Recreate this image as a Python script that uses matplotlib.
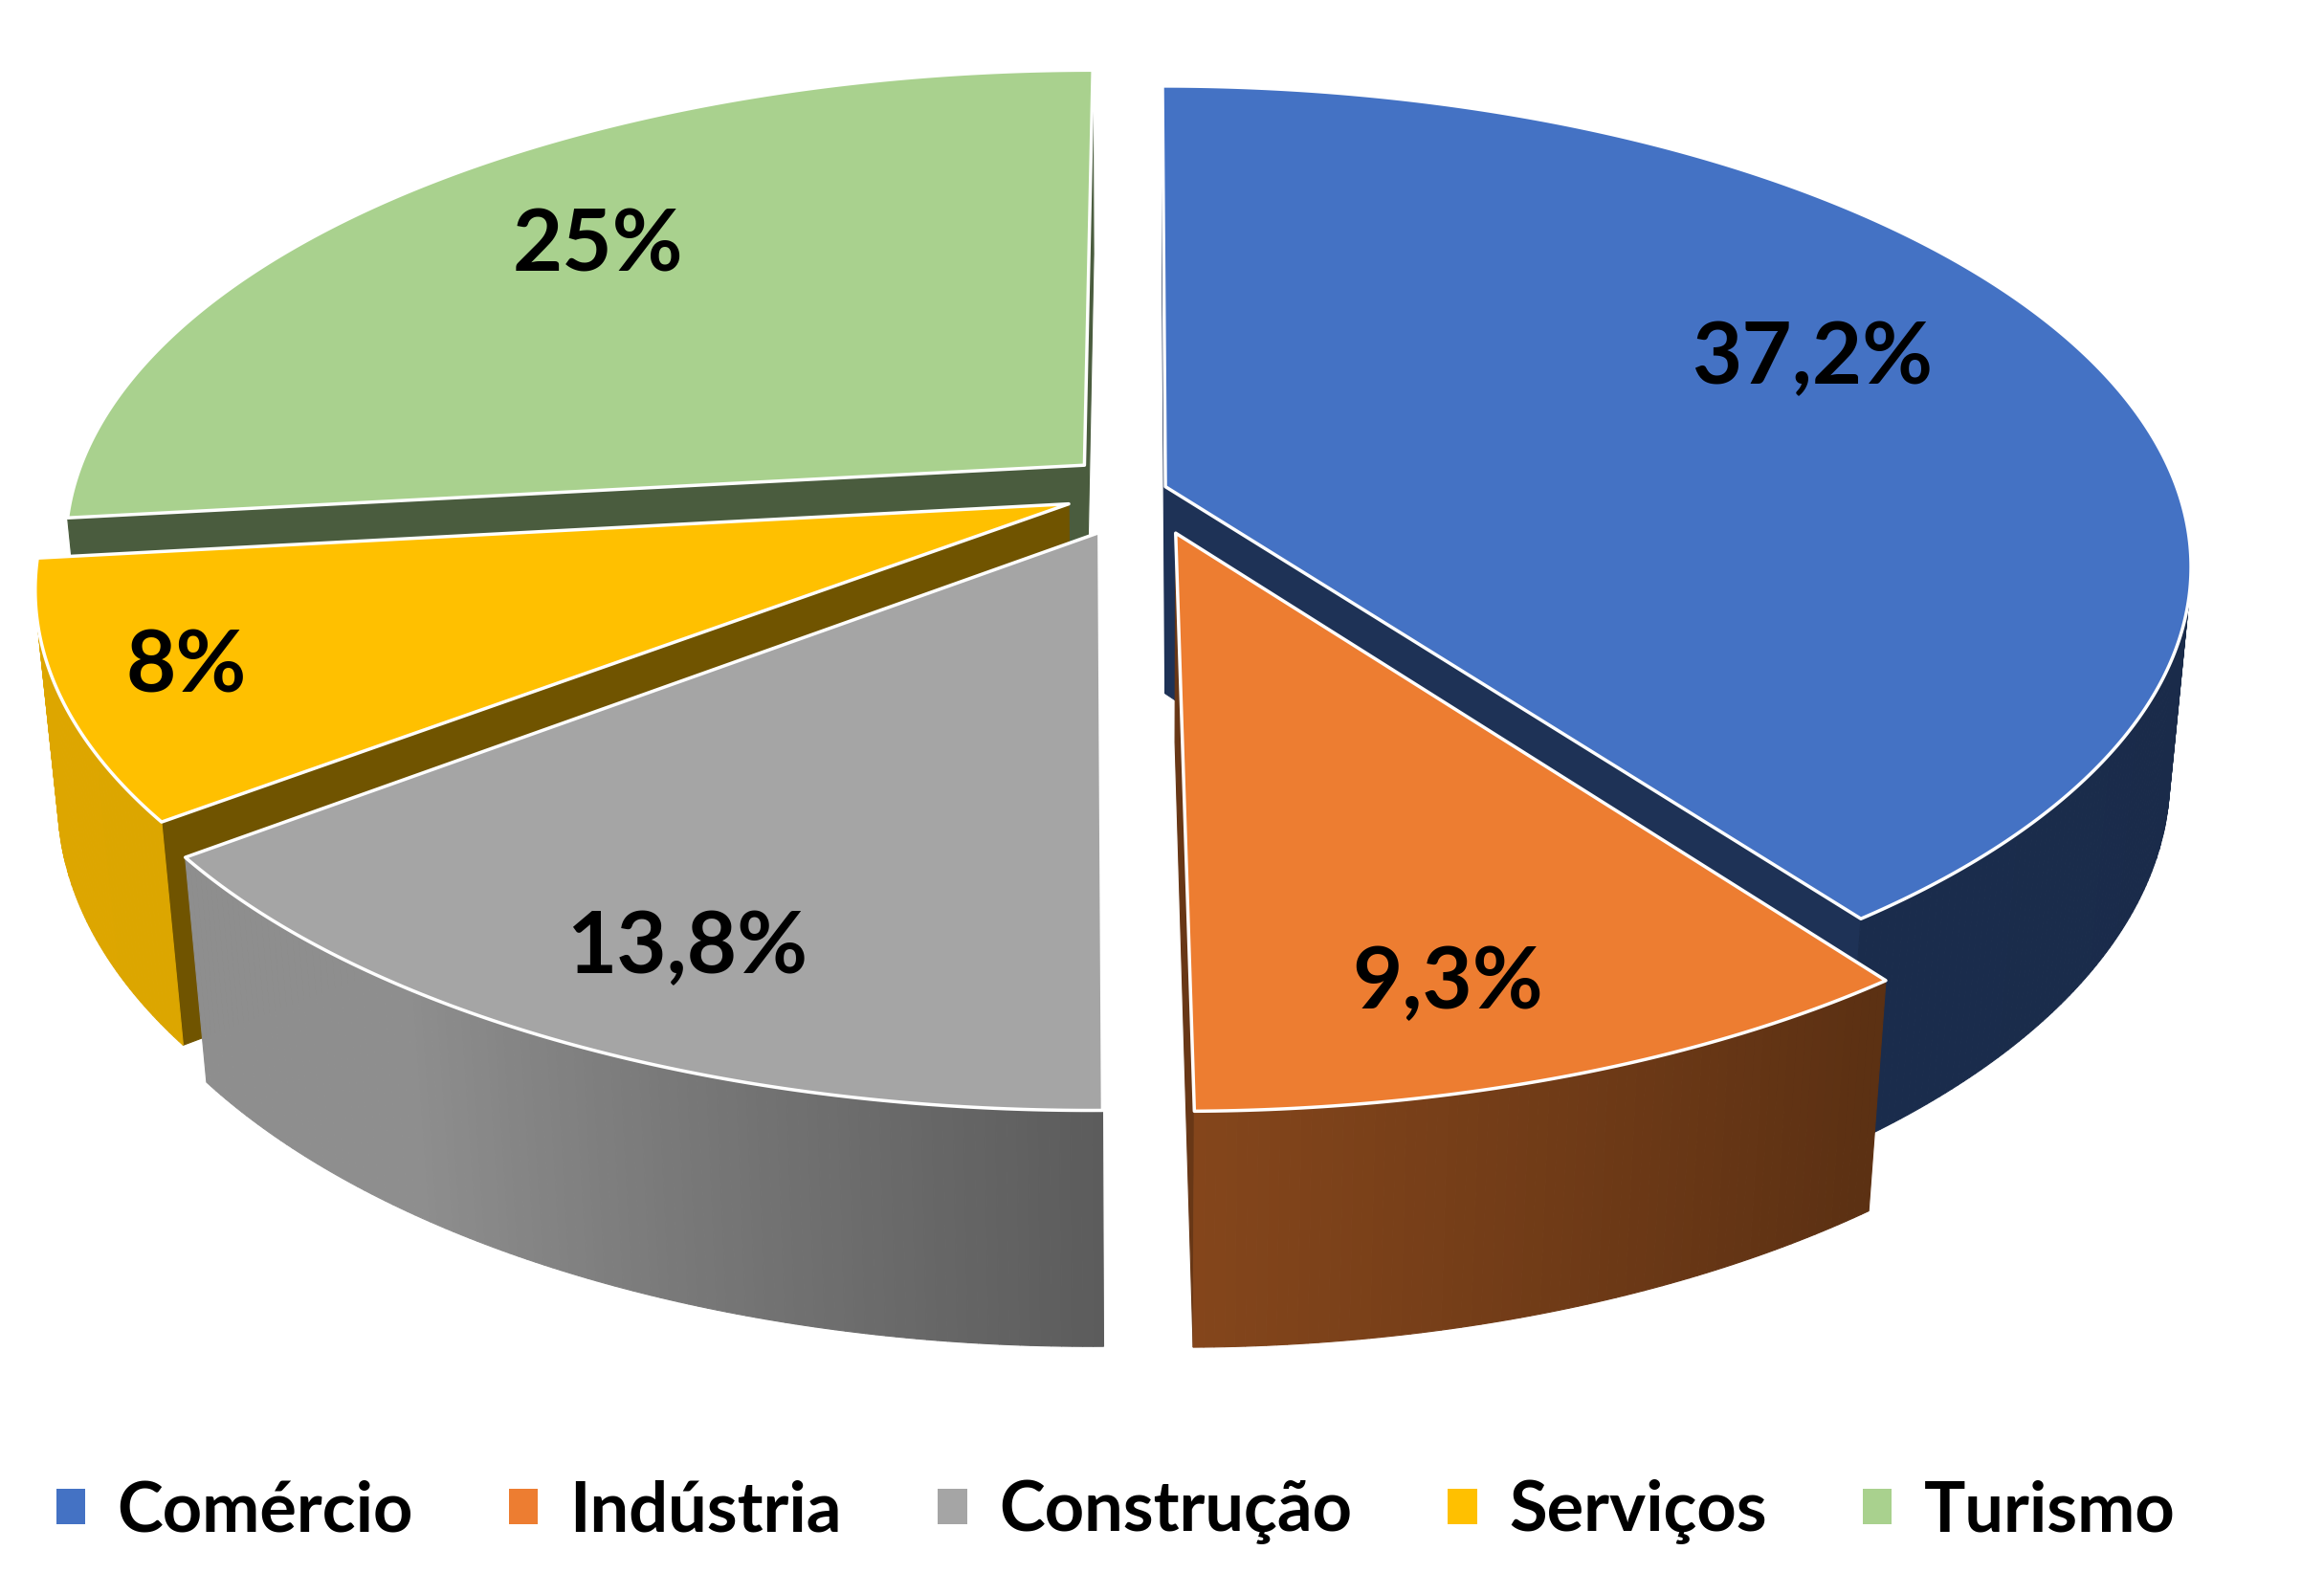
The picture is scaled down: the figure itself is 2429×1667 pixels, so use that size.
import numpy as np
import matplotlib
matplotlib.use('Agg')
import matplotlib.pyplot as plt
from matplotlib.patches import Polygon, Patch
from matplotlib.colors import to_rgb

plt.rcParams['font.family'] = ['Lato', 'DejaVu Sans']

# data
sectors = ['Comércio', 'Indústria', 'Construção', 'Serviços', 'Turismo']
values = [37.2, 9.3, 13.8, 8, 25]
value_labels = ['37,2%', '9,3%', '13,8%', '8%', '25%']
colors = ['#4472C4', '#ED7D31', '#A5A5A5', '#FFC000', '#A9D18E']
explode = [0.022, 0.096, 0.10, 0.08, 0.08]

# label placement on the top face (radius, angle shift from slice middle)
label_r = [0.73, 0.84, 0.83, 0.88, 0.74]
label_shift = [5, -3, 1.5, 0, -2.4]

# 3d look of the pie
TILT = np.radians(27.5)
DIST = 5.4
THICK = 0.235
CX, CY, SCALE = 1196, 512, 1058
CAM = np.array([0, -DIST * np.cos(TILT), DIST * np.sin(TILT)])


def project(X, Y, Z):
    X, Y, Z = np.asarray(X, float), np.asarray(Y, float), np.asarray(Z, float)
    depth = Y * np.cos(TILT) - Z * np.sin(TILT)
    k = DIST / (DIST + depth)
    sx = CX + SCALE * X * k
    sy = CY - SCALE * (Y * np.sin(TILT) + Z * np.cos(TILT)) * k
    return sx, sy, depth


def shade(c, f):
    return tuple(np.clip(np.array(to_rgb(c)) * f, 0, 1))


def wall_factor(t):
    t = (t + 180) % 360 - 180
    return np.interp(t, [-180, -125, -90, -55, 0, 180], [0.87, 0.86, 0.56, 0.39, 0.37, 0.37])


def facing(px, py, nx, ny):
    return (CAM[0] - px) * nx + (CAM[1] - py) * ny > 0


fig = plt.figure(figsize=(24.29, 16.67), dpi=100)
ax = fig.add_axes([0, 0, 1, 1])
ax.set_xlim(0, 2429)
ax.set_ylim(1667, 0)
ax.axis('off')

fracs = np.array(values) / np.sum(values)
starts = 90 - np.concatenate([[0], np.cumsum(fracs)[:-1]]) * 360
ends = starts - fracs * 360

walls = []
tops = []
labels = []
for i in range(len(values)):
    a0, a1 = starts[i], ends[i]
    mid = np.radians((a0 + a1) / 2)
    ox, oy = explode[i] * np.cos(mid), explode[i] * np.sin(mid)
    t = np.radians(np.linspace(a1, a0, int(abs(a0 - a1) * 2) + 2))
    arc_x = np.cos(t) + ox
    arc_y = np.sin(t) + oy

    # outer wall, in thin strips so the shading can follow the angle
    for j in range(len(t) - 1):
        tm = (t[j] + t[j + 1]) / 2
        px, py = np.cos(tm) + ox, np.sin(tm) + oy
        if not facing(px, py, np.cos(tm), np.sin(tm)):
            continue
        xs = [arc_x[j], arc_x[j + 1], arc_x[j + 1], arc_x[j]]
        ys = [arc_y[j], arc_y[j + 1], arc_y[j + 1], arc_y[j]]
        zs = [0, 0, -THICK, -THICK]
        sx, sy, _ = project(xs, ys, zs)
        _, _, d = project(px, py, -THICK / 2)
        walls.append((float(d), np.column_stack([sx, sy]),
                      shade(colors[i], wall_factor(np.degrees(tm)))))

    # radial walls
    for a, sgn in ((a0, 1), (a1, -1)):
        ar = np.radians(a)
        ex, ey = np.cos(ar) + ox, np.sin(ar) + oy
        nx, ny = np.cos(ar + sgn * np.pi / 2), np.sin(ar + sgn * np.pi / 2)
        mx, my = (ox + ex) / 2, (oy + ey) / 2
        if not facing(mx, my, nx, ny):
            continue
        sx, sy, _ = project([ox, ex, ex, ox], [oy, ey, ey, oy], [0, 0, -THICK, -THICK])
        _, _, d = project(mx, my, -THICK / 2)
        walls.append((float(d), np.column_stack([sx, sy]), shade(colors[i], 0.44)))

    # top face
    sx, sy, _ = project(np.r_[ox, arc_x], np.r_[oy, arc_y], np.zeros(len(t) + 1))
    _, _, d = project(ox, oy, 0)
    tops.append((float(d), np.column_stack([sx, sy]), colors[i]))

    la = mid + np.radians(label_shift[i])
    lx, ly, _ = project(label_r[i] * np.cos(la) + ox, label_r[i] * np.sin(la) + oy, 0)
    labels.append((float(lx), float(ly), value_labels[i]))

for d, pts, c in sorted(walls, key=lambda w: -w[0]):
    ax.add_patch(Polygon(pts, closed=True, facecolor=c, edgecolor=c, lw=0.8))

for d, pts, c in sorted(tops, key=lambda w: -w[0]):
    ax.add_patch(Polygon(pts, closed=True, facecolor=c, edgecolor='white', lw=2.5,
                         joinstyle='round'))

for lx, ly, txt in labels:
    ax.text(lx, ly, txt, ha='center', va='center', fontsize=65,
            fontweight='bold', color='black')

handles = [Patch(facecolor=c, edgecolor='none') for c in colors]
fig.legend(handles, sectors, loc='center', bbox_to_anchor=(0.48, 0.052), ncol=5,
           frameon=False, prop={'weight': 'bold', 'size': 52},
           handlelength=0.42, handleheight=0.42, handletextpad=0.46,
           columnspacing=1.39)

fig.savefig('out.png', dpi=100, facecolor='white')
